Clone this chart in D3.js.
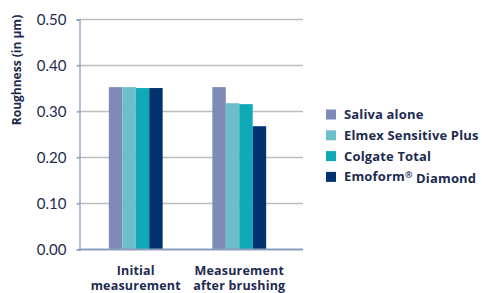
<!DOCTYPE html>
<html>
<head>
<meta charset="utf-8">
<script src="https://cdn.jsdelivr.net/npm/d3@7"></script>
<style>
  body { margin: 0; background: #fff; }
  text { font-family: "Open Sans", Lato, sans-serif; fill: #1e2b50; }
</style>
</head>
<body>
<div id="chart"></div>
<script>
const categories = [["Initial", "measurement"], ["Measurement", "after brushing"]];
const series = ["Saliva alone", "Elmex Sensitive Plus", "Colgate Total", "Emoform® Diamond"];
const colors = ["#7f8bb6", "#6cbfc8", "#0eaab8", "#013370"];
const initialValues = [0.353, 0.353, 0.351, 0.351];
const afterValues = [0.353, 0.318, 0.316, 0.268];
const yTicks = [0, 0.1, 0.2, 0.3, 0.4, 0.5];

const width = 482, height = 293;
const svg = d3.select("#chart").append("svg")
    .attr("width", width)
    .attr("height", height);

const rows = [initialValues, afterValues];

// scales
const y = d3.scaleLinear().domain([0, 0.5]).range([249.5, 19.5]);
const x0 = d3.scaleBand()
    .domain(d3.range(categories.length))
    .range([84, 291])
    .paddingInner(0.48)
    .paddingOuter(0.24);
const x1 = d3.scaleBand()
    .domain(series)
    .range([0, x0.bandwidth()]);

// gridlines
svg.append("g")
    .selectAll("line")
    .data(yTicks.slice(1))
    .enter()
    .append("line")
    .attr("x1", 77)
    .attr("x2", 303)
    .attr("y1", d => y(d))
    .attr("y2", d => y(d))
    .attr("stroke", "#bdbdbd")
    .attr("stroke-width", 1.3);

// y axis
const yAxis = svg.append("g")
    .attr("transform", "translate(79.5,0)")
    .call(d3.axisLeft(y).tickValues(yTicks).tickFormat(d3.format(".2f")).tickSize(3).tickPadding(10));
yAxis.select(".domain").attr("stroke", "#8a9dbd").attr("stroke-width", 1.3);
yAxis.selectAll(".tick line").attr("stroke", "#8a9dbd");
yAxis.selectAll("text")
    .style("font-size", "15px")
    .style("font-family", "Lato, sans-serif")
    .attr("fill", "#1e2b50");

// bars
const groups = svg.append("g")
    .selectAll("g")
    .data(rows)
    .enter()
    .append("g")
    .attr("transform", (d, i) => "translate(" + x0(i) + ",0)");
groups.selectAll("rect")
    .data(d => d.map((v, j) => ({ key: series[j], value: v, color: colors[j] })))
    .enter()
    .append("rect")
    .attr("x", d => x1(d.key))
    .attr("y", d => y(d.value))
    .attr("width", x1.bandwidth())
    .attr("height", d => y(0) - y(d.value))
    .attr("fill", d => d.color);

// baseline
svg.append("line")
    .attr("x1", 79)
    .attr("x2", 303)
    .attr("y1", y(0))
    .attr("y2", y(0))
    .attr("stroke", "#8a9dbd")
    .attr("stroke-width", 2);

// x labels
const xl = svg.append("g")
    .selectAll("text")
    .data(categories)
    .enter()
    .append("text")
    .attr("x", (d, i) => x0(i) + x0.bandwidth() / 2)
    .attr("y", 274.5)
    .attr("text-anchor", "middle")
    .style("font-size", "12.5px")
    .style("font-weight", "bold")
    .style("letter-spacing", "0.2px");
xl.append("tspan").attr("x", (d, i) => x0(i) + x0.bandwidth() / 2).text(d => d[0]);
xl.append("tspan").attr("x", (d, i) => x0(i) + x0.bandwidth() / 2).attr("dy", 15.5).text(d => d[1]);

// y title
svg.append("text")
    .attr("transform", "translate(21," + 70 + ") rotate(-90)")
    .attr("text-anchor", "middle")
    .style("font-size", "12px")
    .style("font-weight", "bold")
    .text("Roughness (in µm)");

// legend
const legend = svg.append("g")
    .selectAll("g")
    .data(series)
    .enter()
    .append("g")
    .attr("transform", (d, i) => "translate(326," + (109.5 + i * 20.8) + ")");
legend.append("rect")
    .attr("width", 10)
    .attr("height", 10)
    .attr("fill", (d, i) => colors[i]);
const lt = legend.append("text")
    .attr("x", 18)
    .attr("y", 5)
    .attr("dy", "0.35em")
    .style("font-size", "13px")
    .style("font-weight", "bold")
    .style("letter-spacing", "0.15px");
lt.each(function (d) {
    const parts = d.split("®");
    const t = d3.select(this);
    t.append("tspan").text(parts[0]);
    if (parts.length > 1) {
        t.append("tspan").attr("dy", "-0.4em").style("font-size", "9px").text("®");
        t.append("tspan").attr("dy", "0.4em").text(parts[1]);
    }
});
</script>
</body>
</html>
